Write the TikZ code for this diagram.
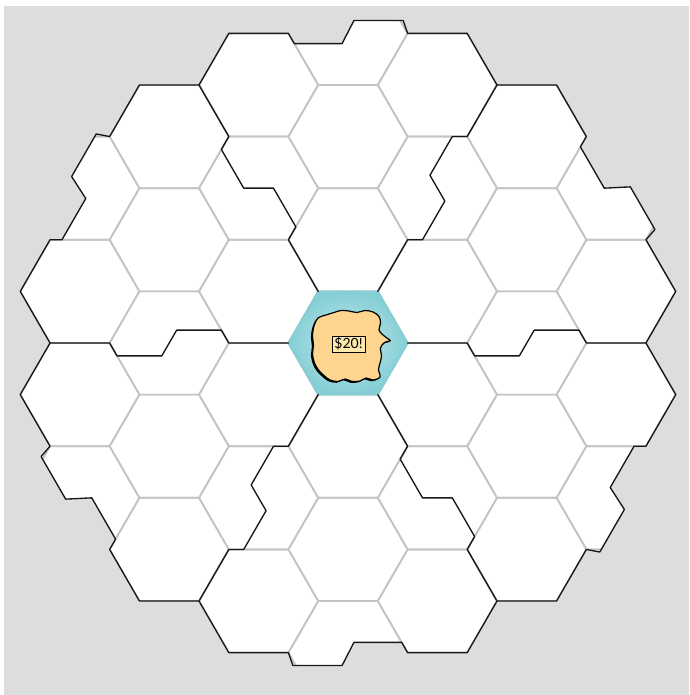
\documentclass[tikz,border=0pt]{standalone}
\usepackage{fontspec}
\newfontfamily\tagfont{Lato}
\usetikzlibrary{shadows}
\definecolor{bggray}{RGB}{220,221,223}
\definecolor{gridgray}{RGB}{196,196,196}
\definecolor{edgeblack}{RGB}{24,24,24}
\definecolor{tealin}{RGB}{196,233,235}
\definecolor{tealout}{RGB}{132,206,213}
\definecolor{blobfill}{RGB}{253,213,142}
\definecolor{tagfill}{RGB}{253,233,172}
\newcommand\boardoutline{(-5,-5) \foreach \k in {0,...,5}{ -- ([rotate=-60*\k]-5,-5) -- ([rotate=-60*\k]-4,-6) -- ([rotate=-60*\k]-2,-6) -- ([rotate=-60*\k]-1.8,-5.8) -- ([rotate=-60*\k]-0.2,-5.8) -- ([rotate=-60*\k]0.2,-6.25) -- ([rotate=-60*\k]1.85,-6.25) -- ([rotate=-60*\k]2,-6) -- ([rotate=-60*\k]4,-6)} -- cycle}
\newcommand\blobshape{plot[smooth cycle, tension=0.55] coordinates {(318,318) (326,315) (334,312.5) (341,310.5) (349,311) (357,312.5) (365,310.5) (373,312) (379,316.5) (380.5,323) (379,330) (383,335) (389,339.5) (390,341) (384.5,342.5) (380.5,348) (381.5,356) (380,363) (378.5,369.5) (380,377) (373,380) (366,378) (360,381) (352,381.5) (345,379) (338,381.5) (330,380) (324,375.5) (318.5,370) (314.5,363) (312.5,354) (313.5,345) (312.5,336) (314,326)}}
\begin{document}
\begin{tikzpicture}[x=1pt,y=-1pt,
  gridline/.style={draw=gridgray, line width=1.7pt, line join=round},
  boundary/.style={draw=edgeblack, line width=1.35pt, line join=round, line cap=round},
  tag/.style={draw=black, line width=0.8pt, fill=tagfill, minimum width=33pt, minimum height=16pt, inner sep=0pt,
    font=\tagfont\fontsize{14}{15}\selectfont,
    drop shadow={shadow xshift=1.3pt, shadow yshift=-1.3pt, fill=brown!70!black, opacity=0.35}}]
\useasboundingbox (0,0) rectangle (689,695);
\fill[white] (0,0) rectangle (689,695);
\fill[bggray] (4,6) rectangle (689,695);
\begin{scope}[shift={(348pt,-343pt)}, x=29.8pt, y=-51.61pt]
  \fill[white] \boardoutline;
  \begin{scope}
    \clip \boardoutline;
    \foreach \q in {-4,...,4} {
      \foreach \r in {-7,...,7} {
        \pgfmathsetmacro{\hu}{3*\q}
        \pgfmathsetmacro{\hm}{2*\r+\q}
        \draw[gridline] (\hu-2,\hm) -- (\hu-1,\hm-1) -- (\hu+1,\hm-1) -- (\hu+2,\hm) -- (\hu+1,\hm+1) -- (\hu-1,\hm+1) -- cycle;
      }
    }
  \end{scope}
  \shade[inner color=tealin, outer color=tealout, draw=tealout, line width=1.7pt]
    (-2,0) -- (-1,-1) -- (1,-1) -- (2,0) -- (1,1) -- (-1,1) -- cycle;
  \draw[boundary] \boardoutline;
  \foreach \k in {0,...,5} {
    \draw[boundary, rotate=-60*\k] (-1,-1) -- (-2,-2) -- (-1.75,-2.25) -- (-2.5,-3) -- (-3.5,-3) -- (-4.25,-3.75) -- (-4,-4) -- (-5,-5);
  }
\end{scope}
\fill[black, xshift=-1.6pt, yshift=-1.3pt] \blobshape;
\draw[fill=blobfill, draw=black, line width=1.2pt] \blobshape;
\node[tag] (price) at (348.5,344) {\$20!};
\end{tikzpicture}
\end{document}
